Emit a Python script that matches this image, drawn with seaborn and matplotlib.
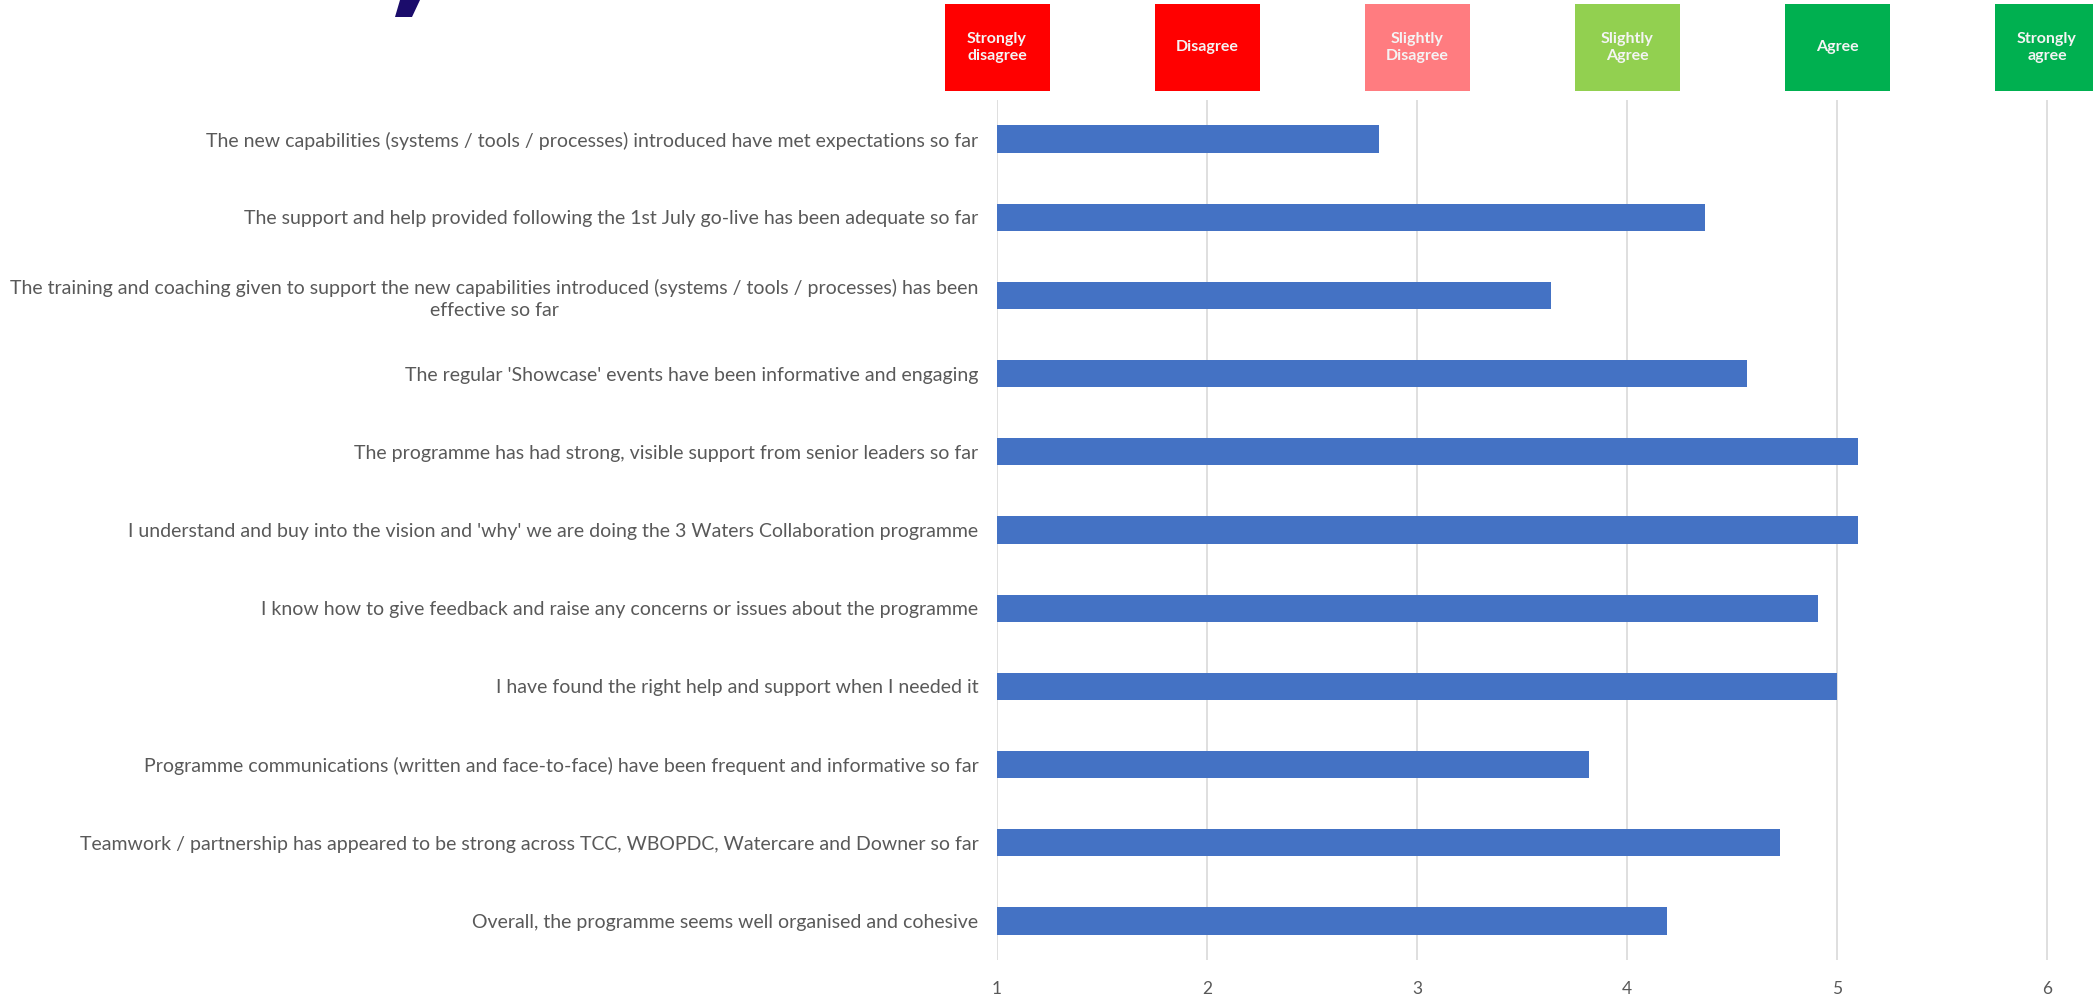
import matplotlib
matplotlib.use("Agg")
import matplotlib.pyplot as plt
import matplotlib.transforms as mtransforms
from matplotlib.patches import Rectangle, Polygon
import seaborn as sns
import pandas as pd

statements = [
    "The new capabilities (systems / tools / processes) introduced have met expectations so far",
    "The support and help provided following the 1st July go-live has been adequate so far",
    "The training and coaching given to support the new capabilities introduced (systems / tools / processes) has been\neffective so far",
    "The regular 'Showcase' events have been informative and engaging",
    "The programme has had strong, visible support from senior leaders so far",
    "I understand and buy into the vision and 'why' we are doing the 3 Waters Collaboration programme",
    "I know how to give feedback and raise any concerns or issues about the programme",
    "I have found the right help and support when I needed it",
    "Programme communications (written and face-to-face) have been frequent and informative so far",
    "Teamwork / partnership has appeared to be strong across TCC, WBOPDC, Watercare and Downer so far",
    "Overall, the programme seems well organised and cohesive",
]
scores = [2.82, 4.37, 3.64, 4.57, 5.10, 5.10, 4.91, 5.00, 3.82, 4.73, 4.19]

scale_positions = [1, 2, 3, 4, 5, 6]
scale_labels = ["Strongly\ndisagree", "Disagree", "Slightly\nDisagree", "Slightly\nAgree", "Agree", "Strongly\nagree"]
scale_colors = ["#FF0000", "#FF0000", "#FF7C80", "#92D050", "#00B050", "#00B050"]

sns.set_theme(style="white")
plt.rcParams['font.family'] = ['Lato', 'DejaVu Sans']

W, H = 2093, 997
fig = plt.figure(figsize=(W / 100, H / 100), dpi=100)
fig.patch.set_facecolor("white")

x0_px, x1_px = 997, 997 + 5.1 * 210
top_px, bot_px = 100, 960
ax = fig.add_axes([x0_px / W, (H - bot_px) / H, (x1_px - x0_px) / W, (bot_px - top_px) / H])

df = pd.DataFrame({"statement": statements, "score": scores})
sns.barplot(data=df, x="score", y="statement", orient="h", color="#4472C4",
            saturation=1, width=0.35, ax=ax, edgecolor="none")

ax.set_xlim(1, 6.1)
ax.set_ylim(len(statements) - 0.5, -0.5)
ax.set_xticks(scale_positions)
ax.set_xticklabels([str(v) for v in scale_positions])
ax.set_xlabel("")
ax.set_ylabel("")
ax.xaxis.grid(True, color="#D9D9D9", linewidth=1.2)
ax.yaxis.grid(False)
ax.set_axisbelow(True)
for s in ax.spines.values():
    s.set_visible(False)
ax.tick_params(axis="y", length=0, pad=13.5, labelsize=14.0, labelcolor="#595959")
ax.tick_params(axis="x", length=0, pad=15, labelsize=12.5, labelcolor="#595959")
for lbl in ax.get_yticklabels():
    lbl.set_multialignment("center")
    lbl.set_linespacing(1.35)

# header category boxes
trans = mtransforms.blended_transform_factory(ax.transData, fig.transFigure)
box_bottom = (H - 91) / H
box_h = 87 / H
for xp, lab, col in zip(scale_positions, scale_labels, scale_colors):
    ax.add_patch(Rectangle((xp - 0.25, box_bottom), 0.5, box_h, transform=trans,
                           facecolor=col, edgecolor="none", clip_on=False))
    ax.text(xp, box_bottom + box_h / 2, lab, transform=trans, ha="center", va="center",
            fontsize=11.5, fontweight="bold", color="#F4F4F4", linespacing=1.3,
            multialignment="center", clip_on=False)

# fragment of the cut-off title at top-left
frag = Polygon([(400 / W, 1.0), (420 / W, 1.0), (412 / W, (H - 17) / H), (395 / W, (H - 17) / H)],
               closed=True, transform=fig.transFigure, facecolor="#1B0C6B", edgecolor="none")
fig.patches.append(frag)

fig.savefig("out.png", dpi=100, facecolor="white")
